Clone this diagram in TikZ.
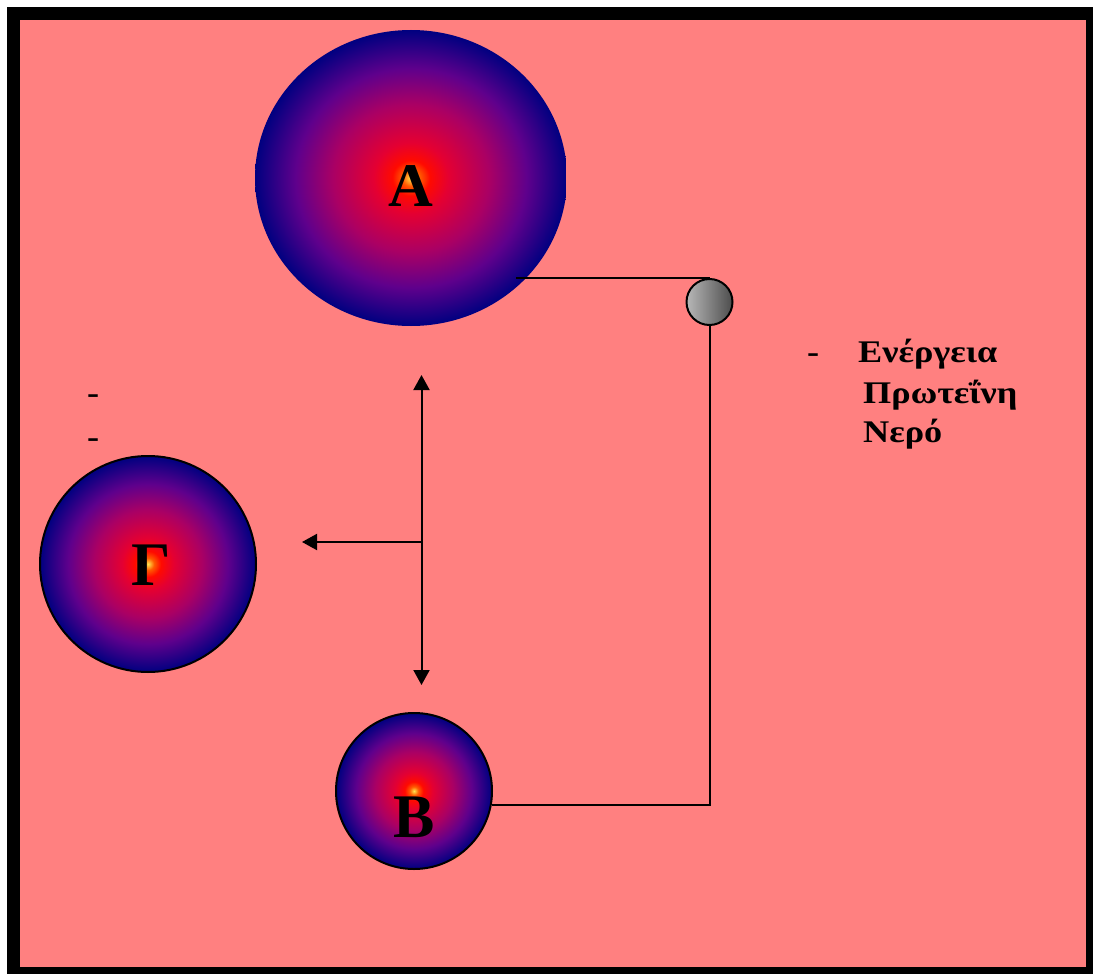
\documentclass[tikz,border=0pt]{standalone}
\usepackage{fontspec}
\setmainfont{Liberation Serif}
\newfontfamily\listfont[FakeStretch=1.15]{Liberation Serif}
\usetikzlibrary{arrows.meta,shapes.geometric}

\definecolor{bgpink}{RGB}{255,128,128}
\definecolor{glow}{RGB}{255,230,80}
\definecolor{orangered}{RGB}{255,90,0}
\definecolor{hotred}{RGB}{255,10,0}
\definecolor{deepred}{RGB}{228,0,50}
\definecolor{crimson}{RGB}{170,0,100}
\definecolor{violet}{RGB}{95,0,140}
\definecolor{navyblue}{RGB}{0,0,128}

% glowing cell: yellow core, red, purple, navy rim
\pgfdeclareradialshading{cellshade}{\pgfpoint{0bp}{0bp}}{%
  color(0bp)=(glow); color(1.4bp)=(orangered); color(3bp)=(hotred);
  color(6bp)=(deepred); color(12.5bp)=(crimson); color(18.5bp)=(violet);
  color(25bp)=(navyblue); color(50bp)=(navyblue)}

\tikzset{
  cell/.style={inner sep=0pt, shading=cellshade},
  cellrim/.style={draw=black, line width=2pt},
  bigletter/.style={font=\fontsize{62}{62}\selectfont\bfseries, inner sep=0pt},
  itemtext/.style={font=\listfont\fontsize{31.5}{31.5}\selectfont\bfseries, inner sep=0pt, anchor=base west},
  wire/.style={draw=black, line width=2pt},
  arrowline/.style={draw=black, line width=2pt, -{Triangle[length=15pt,width=16pt]}},
}

\begin{document}
\begin{tikzpicture}[x=1pt,y=-1pt]
  \useasboundingbox (0,0) rectangle (1093,974);
  % frame and background
  \fill[black] (7,7) rectangle (1093,974);
  \fill[bgpink] (20,20) rectangle (1086,967);

  % cell A (slightly cut on its right side)
  \begin{scope}
    \clip (0,0) rectangle (565.5,974);
    \node[cell, ellipse, minimum width=312pt, minimum height=296pt] (cellA) at (411,178) {};
  \end{scope}
  \node[bigletter] (labA) at (411,186) {Α};

  % cell Γ
  \node[cell, cellrim, circle, minimum size=216pt] (cellG) at (148,564) {};
  \node[bigletter] (labG) at (151,565) {Γ};

  % cell Β
  \node[cell, cellrim, circle, minimum size=156pt] (cellB) at (414,791) {};
  \node[bigletter] (labB) at (414,817) {Β};

  % small grey sphere
  \node[circle, draw=black, line width=2pt, minimum size=46pt, inner sep=0pt,
        left color=black!28, right color=black!70] (pump) at (709.5,302) {};

  % connecting wires
  \coordinate (aOut) at (516,278);
  \draw[wire] (aOut) -- (aOut -| pump.north) -- (pump.north);
  \draw[wire] (pump.south) |- (cellB.-10);

  % arrows
  \coordinate (hub) at (421.5,542);
  \coordinate (upTip) at (421.5,375);
  \coordinate (downTip) at (421.5,685);
  \coordinate (leftTip) at (302,542);
  \draw[arrowline] (hub) -- (upTip);
  \draw[arrowline] (hub) -- (downTip);
  \draw[arrowline] (hub) -- (leftTip);

  % list on the right
  \node[itemtext] (dashR) at (807,362) {-};
  \node[itemtext] (item1) at (858,362) {Ενέργεια};
  \node[itemtext] (item2) at (863,403) {Πρωτεΐνη};
  \node[itemtext] (item3) at (863,442) {Νερό};

  % dashes on the left
  \node[itemtext] (dashL1) at (87,403) {-};
  \node[itemtext] (dashL2) at (87,447) {-};
\end{tikzpicture}
\end{document}
